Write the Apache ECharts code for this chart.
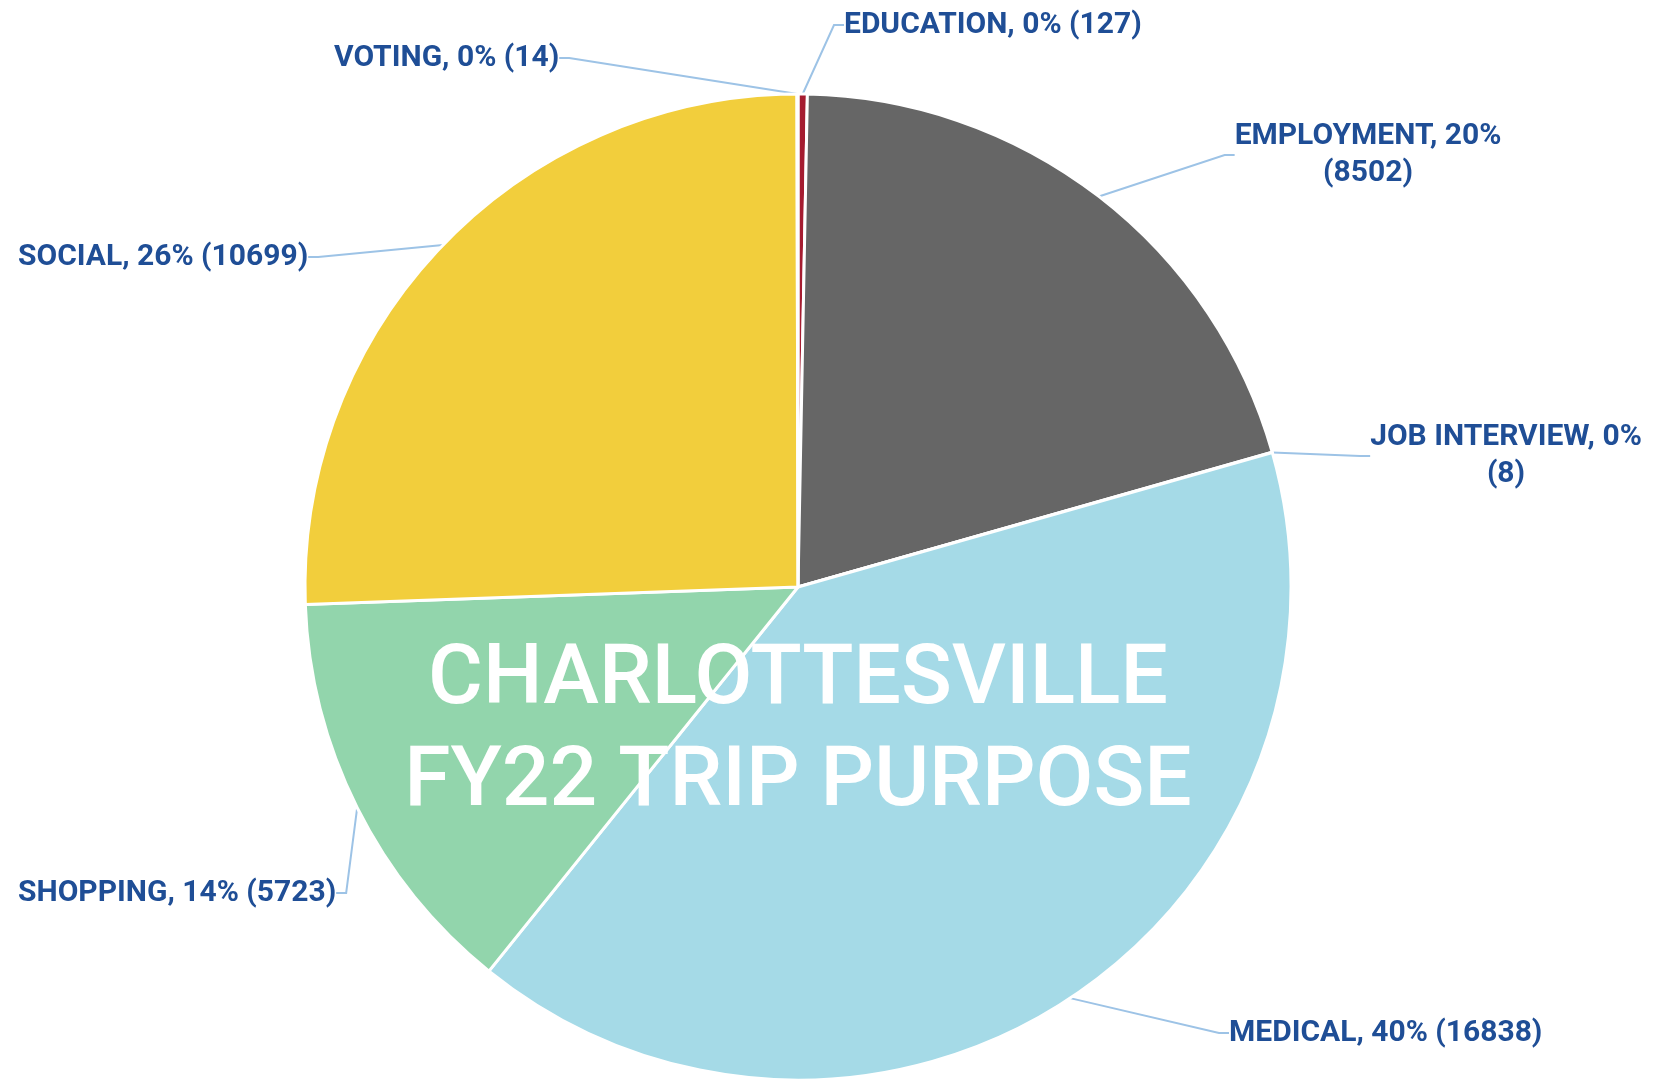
<!DOCTYPE html>
<html>
<head>
<meta charset="utf-8">
<script src="https://cdn.jsdelivr.net/npm/echarts@6/dist/echarts.min.js"></script>
<style>
html,body{margin:0;padding:0;background:#fff;}
#chart{width:1680px;height:1081px;}
</style>
</head>
<body>
<div id="chart"></div>
<script>
const categories = ['EDUCATION', 'EMPLOYMENT', 'JOB INTERVIEW', 'MEDICAL', 'SHOPPING', 'SOCIAL', 'VOTING'];
const values = [127, 8502, 8, 16838, 5723, 10699, 14];
const percentLabels = ['0%', '20%', '0%', '40%', '14%', '26%', '0%'];
const sliceColors = ['#A51C30', '#666666', '#5B9BD5', '#A5DAE7', '#92D5AC', '#F2CE3C', '#ED7D31'];
const titleLines = ['CHARLOTTESVILLE', 'FY22 TRIP PURPOSE'];
// label placement (x, y, align) per category
const labelPlaces = [
  {x: 844, y: 25, align: 'left'},
  {x: 1368, y: 155, align: 'center'},
  {x: 1506, y: 456, align: 'center'},
  {x: 1229, y: 1033, align: 'left'},
  {x: 18, y: 893, align: 'left'},
  {x: 18, y: 257, align: 'left'},
  {x: 334, y: 58, align: 'left'}
];
const twoLine = [false, true, true, false, false, false, false];

const chart = echarts.init(document.getElementById('chart'), null, {renderer: 'canvas'});
const data = categories.map((c, i) => ({
  name: c,
  value: values[i],
  itemStyle: {color: sliceColors[i]}
}));
chart.setOption({
  animation: false,
  backgroundColor: '#ffffff',
  series: [{
    type: 'pie',
    center: [798, 587],
    radius: [0, 493],
    startAngle: 90,
    clockwise: true,
    minAngle: 0,
    avoidLabelOverlap: false,
    data: data,
    itemStyle: {borderColor: '#ffffff', borderWidth: 3},
    label: {
      show: true,
      position: 'outside',
      color: '#1F4E96',
      fontFamily: 'Roboto',
      fontWeight: 'bold',
      fontSize: 30,
      lineHeight: 37,
      formatter: function (p) {
        const i = p.dataIndex;
        const sep = twoLine[i] ? '\n' : ' ';
        return categories[i] + ', ' + percentLabels[i] + sep + '(' + values[i] + ')';
      }
    },
    labelLine: {
      show: true,
      length: 20,
      length2: 10,
      lineStyle: {color: '#9DC3E6', width: 2}
    },
    labelLayout: function (params) {
      const p = labelPlaces[params.dataIndex];
      return {x: p.x, y: p.y, align: p.align, verticalAlign: 'middle'};
    }
  }],
  graphic: [{
    type: 'text',
    x: 798,
    y: 733,
    z: 100,
    style: {
      text: titleLines.join('\n'),
      fill: '#ffffff',
      font: '500 84px Roboto',
      lineHeight: 102,
      align: 'center',
      verticalAlign: 'middle',
      shadowColor: 'rgba(0,0,0,0.3)',
      shadowBlur: 4,
      shadowOffsetX: 2,
      shadowOffsetY: 2
    }
  }]
});
</script>
</body>
</html>
